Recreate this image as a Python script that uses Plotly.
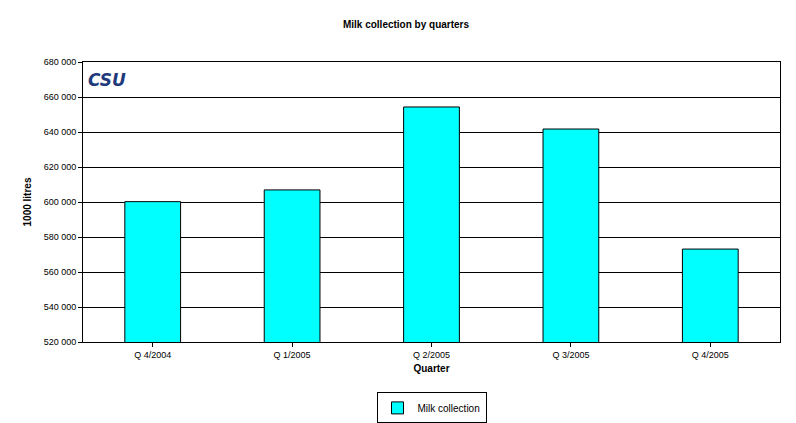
import plotly.graph_objects as go

quarters = ["Q 4/2004", "Q 1/2005", "Q 2/2005", "Q 3/2005", "Q 4/2005"]
milk = [600200, 606900, 654300, 641700, 573100]
tick_vals = list(range(520000, 680001, 20000))
tick_text = [f"{v//1000} {v%1000:03d}" for v in tick_vals]

fig = go.Figure(go.Bar(x=quarters, y=milk, name="Milk collection",
                       marker=dict(color="#00FFFF", line=dict(color="black", width=1)),
                       width=0.4, showlegend=True))
fig.update_layout(
    width=796, height=423, paper_bgcolor="white", plot_bgcolor="white",
    font=dict(family="Liberation Sans, Arial", size=10, color="black"),
    margin=dict(l=75, r=24, t=54, b=89, autoexpand=False),
    title=dict(text="<b>Milk collection by quarters</b>", x=0.5, xanchor="center",
               y=1 - 16/423, yanchor="middle", font=dict(size=10)),
    xaxis=dict(title=dict(text="<b>Quarter</b>", standoff=6, font=dict(size=10)), showline=True,
               linecolor="black", mirror=True, automargin=False,
               ticks="outside", ticklen=4, tickcolor="black", range=[-0.5, 4.5],
               tickfont=dict(size=9)),
    yaxis=dict(title=dict(text="<b>1000 litres</b>", standoff=10, font=dict(size=10)), range=[520000, 680000],
               tickvals=tick_vals, ticktext=tick_text, showgrid=True, gridcolor="black", gridwidth=1,
               showline=True, linecolor="black", mirror=True, ticks="outside", ticklen=4, automargin=False,
               tickcolor="black", tickfont=dict(size=9)),
    legend=dict(orientation="h", x=0.5, xanchor="center", y=-0.18, yanchor="top",
                bordercolor="black", borderwidth=1, font=dict(size=10), itemwidth=30),
    annotations=[dict(text="<b><i>CSU</i></b>", xref="paper", yref="paper", x=0.005, y=0.98,
                      xanchor="left", yanchor="top", showarrow=False,
                      font=dict(size=17, color="#1F3A7A", family="DejaVu Sans"))],
)
fig.write_html("out.html")
